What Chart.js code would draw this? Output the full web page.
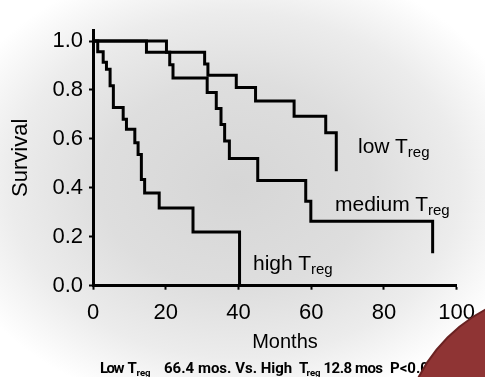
<!DOCTYPE html>
<html>
<head>
<meta charset="utf-8">
<script src="https://cdn.jsdelivr.net/npm/chart.js"></script>
<style>
	body { margin: 0; }
	#wrap {
		position: relative; width: 485px; height: 377px; overflow: hidden;
		background: radial-gradient(ellipse 300px 230px at 235px 185px, #d6d6d6 0%, #dedede 45%, #ececec 75%, #ffffff 100%);
		font-family: "Liberation Sans", Arial, sans-serif; color: #000;
	}
	canvas { position: absolute; left: 0; top: 0; }
	.lbl { position: absolute; font-size: 21px; line-height: 1; white-space: nowrap; }
	.lbl .sub { font-size: 15px; vertical-align: -4px; }
	#months { position: absolute; left: 235px; width: 100px; top: 331px; text-align: center; font-size: 20px; line-height: 1; }
	.note { position: absolute; top: 360.5px; font-family: Roboto, sans-serif; font-size: 15px; font-weight: 700; line-height: 1; white-space: pre; }
	.note.sub { font-size: 9.6px; top: 368px; }
	#dot {
		position: absolute; left: 400px; top: 290px; width: 316px; height: 316px; border-radius: 50%;
		background: #8f3434; border: 2px solid #6a2222;
	}
</style>
</head>
<body>
<div id="wrap">
	<canvas id="chart" width="485" height="377"></canvas>
	<div class="lbl" style="left:358px; top:135px;">low T<span class="sub">reg</span></div>
	<div class="lbl" style="left:335px; top:193px;">medium T<span class="sub">reg</span></div>
	<div class="lbl" style="left:253px; top:252px;">high T<span class="sub">reg</span></div>
	<div id="months">Months</div>
	<span class="note" style="left:100px; letter-spacing:-1.5px;">Low</span>
	<span class="note" style="left:127.5px;">T</span>
	<span class="note sub" style="left:136.5px;">reg</span>
	<span class="note" style="left:164px;">66.4 mos. Vs. High</span>
	<span class="note" style="left:299px;">T</span>
	<span class="note sub" style="left:306.5px;">reg</span>
	<span class="note" style="left:323.5px; letter-spacing:-0.5px;">12.8 mos</span>
	<span class="note" style="left:390px;">P&lt;0.001</span>
	<div id="dot"></div>
</div>
<script>
	// Kaplan-Meier curves (months, survival)
	const lowMonths = [0, 14.7, 30.7, 31.6, 39.4, 44.7, 55.3, 64.0, 66.9];
	const lowSurv = [1.0, 0.954, 0.906, 0.86, 0.81, 0.755, 0.693, 0.625, 0.468];

	const medMonths = [0, 20.2, 21.1, 22.0, 31.4, 33.9, 35.2, 36.2, 37.5, 45.3, 58.5, 59.9, 93.4];
	const medSurv = [1.0, 0.954, 0.903, 0.849, 0.79, 0.724, 0.659, 0.591, 0.52, 0.43, 0.345, 0.263, 0.133];

	const highMonths = [0, 1.3, 2.8, 3.7, 4.7, 5.6, 8.3, 9.2, 11.5, 12.4, 13.3, 14.2, 18.2, 27.5, 40.3];
	const highSurv = [1.0, 0.956, 0.913, 0.885, 0.817, 0.728, 0.68, 0.639, 0.584, 0.536, 0.434, 0.379, 0.318, 0.219, 0];

	const yTicks = [0, 0.2, 0.4, 0.6, 0.8, 1.0];
	const xTicks = [0, 20, 40, 60, 80, 100];

	function pts(xs, ys) {
		return xs.map((x, i) => ({x: x, y: ys[i]}));
	}
	function curve(label, xs, ys) {
		return {
			label: label,
			data: pts(xs, ys),
			borderColor: '#000',
			borderWidth: 3,
			pointRadius: 0,
			fill: false,
			stepped: 'before' // horizontal first, then the drop
		};
	}

	const font = "'Liberation Sans', Arial, sans-serif";

	new Chart(document.getElementById('chart'), {
		type: 'line',
		data: {
			datasets: [
				curve('low Treg', lowMonths, lowSurv),
				curve('medium Treg', medMonths, medSurv),
				curve('high Treg', highMonths, highSurv)
			]
		},
		options: {
			responsive: false,
			animation: false,
			layout: { padding: { top: 30, right: 27, left: 0, bottom: 0 } },
			plugins: { legend: { display: false }, tooltip: { enabled: false } },
			scales: {
				x: {
					type: 'linear', min: 0, max: 100,
					afterFit: (s) => { s.height = 91.3; },
					afterBuildTicks: (s) => { s.ticks = xTicks.map(v => ({value: v})); },
					border: { display: true, color: '#000', width: 3 },
					grid: { drawOnChartArea: false, drawTicks: true, tickLength: 4, tickWidth: 2, tickColor: '#000' },
					ticks: { color: '#000', padding: 10, maxRotation: 0, font: { family: font, size: 22 } }
				},
				y: {
					type: 'linear', min: 0, max: 1.045,
					afterFit: (s) => { s.width = 93; },
					afterBuildTicks: (s) => { s.ticks = yTicks.map(v => ({value: v})); },
					border: { display: true, color: '#000', width: 3 },
					grid: { drawOnChartArea: false, drawTicks: true, tickLength: 4, tickWidth: 2, tickColor: '#000' },
					ticks: { color: '#000', padding: 6, font: { family: font, size: 22 }, callback: (v) => Number(v).toFixed(1) },
					title: { display: true, text: 'Survival', color: '#000', padding: { top: 8, bottom: 0 }, font: { family: font, size: 22 } }
				}
			}
		}
	});
</script>
</body>
</html>
